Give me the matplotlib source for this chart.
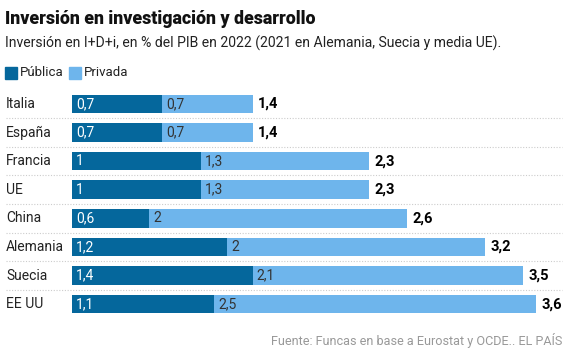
import matplotlib
matplotlib.use("Agg")
import matplotlib.pyplot as plt
from matplotlib.patches import Rectangle
import matplotlib.transforms as mtransforms

categories = ["Italia", "España", "Francia", "UE", "China", "Alemania", "Suecia", "EE UU"]
publica = [0.7, 0.7, 1.0, 1.0, 0.6, 1.2, 1.4, 1.1]
privada = [0.7, 0.7, 1.3, 1.3, 2.0, 2.0, 2.1, 2.5]
totales = [1.4, 1.4, 2.3, 2.3, 2.6, 3.2, 3.5, 3.6]

C_PUB = "#05679c"
C_PRIV = "#6eb5ec"

def fmt(v):
    s = ("%.1f" % v).rstrip("0").rstrip(".")
    return s.replace(".", ",")

plt.rcParams['font.family'] = ['Roboto', 'DejaVu Sans']

W, H = 567, 353
fig = plt.figure(figsize=(W/100, H/100), dpi=100)
ax = fig.add_axes([72/W, 1 - 318.5/H, 490/W, (318.5-89.5)/H])

y = list(range(len(categories)))
ax.barh(y, publica, height=0.65, color=C_PUB)
ax.barh(y, privada, left=publica, height=0.65, color=C_PRIV)
ax.set_xlim(0, 3.8)
ax.set_ylim(len(categories) - 0.5, -0.5)
ax.axis("off")

for i, (p, q, t) in enumerate(zip(publica, privada, totales)):
    ax.annotate(fmt(p), (0, i), xytext=(3, 0), textcoords="offset points",
                va="center", ha="left", color="white", fontsize=10)
    ax.annotate(fmt(q), (p, i), xytext=(3, 0), textcoords="offset points",
                va="center", ha="left", color="#333333", fontsize=10)
    ax.annotate(fmt(t), (p + q, i), xytext=(4, 0), textcoords="offset points",
                va="center", ha="left", color="black", fontsize=10.5, fontweight="bold")

trans = mtransforms.blended_transform_factory(fig.transFigure, ax.transData)
for i, c in enumerate(categories):
    ax.text(6/W, i, c, transform=trans, va="center", ha="left", fontsize=10, color="#222222")
for i in range(len(categories) - 1):
    ax.plot([6/W, 562/W], [i + 0.5, i + 0.5], transform=trans, color="#cccccc",
            lw=0.8, ls=(0, (1, 1.5)), clip_on=False)

fig.text(5/W, 1 - 19/H, "Inversión en investigación y desarrollo", fontsize=12.8,
         fontweight="black", va="center", ha="left", color="#111111")
fig.text(5/W, 1 - 43/H, "Inversión en I+D+i, en % del PIB en 2022 (2021 en Alemania, Suecia y media UE).",
         fontsize=10.1, va="center", ha="left", color="#222222")

fig.patches.append(Rectangle((5/W, 1 - 79/H), 12/W, 12/H, transform=fig.transFigure,
                             color=C_PUB, figure=fig))
fig.text(20/W, 1 - 73/H, "Pública", fontsize=9.5, va="center", ha="left", color="#222222")
fig.patches.append(Rectangle((69/W, 1 - 79/H), 12/W, 12/H, transform=fig.transFigure,
                             color=C_PRIV, figure=fig))
fig.text(84/W, 1 - 73/H, "Privada", fontsize=9.5, va="center", ha="left", color="#222222")

fig.text(562/W, 1 - 341/H, "Fuente: Funcas en base a Eurostat y OCDE.. EL PAÍS",
         fontsize=9.1, va="center", ha="right", color="#999999")

fig.savefig("out.png", dpi=100)
